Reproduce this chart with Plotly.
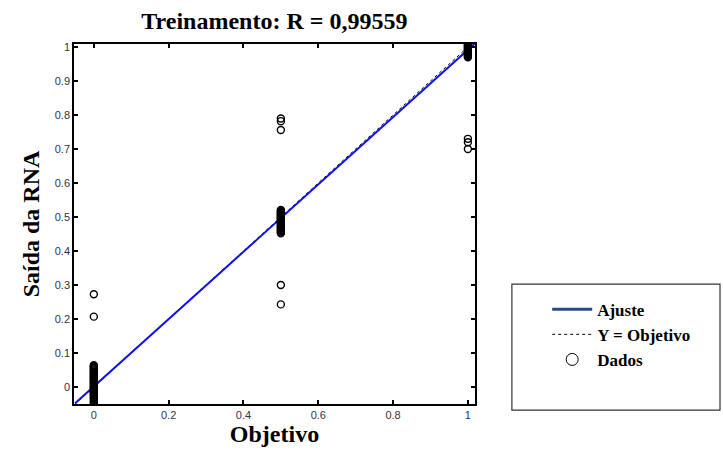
import plotly.graph_objects as go

# ---- data ----
title_text = "Treinamento: R = 0,99559"
x_ticks = [0, 0.2, 0.4, 0.6, 0.8, 1]
x_tick_labels = ["0", "0.2", "0.4", "0.6", "0.8", "1"]
y_ticks = [0, 0.1, 0.2, 0.3, 0.4, 0.5, 0.6, 0.7, 0.8, 0.9, 1]
y_tick_labels = ["0", "0.1", "0.2", "0.3", "0.4", "0.5", "0.6", "0.7", "0.8", "0.9", "1"]

# targets (Objetivo) and network outputs (Saída da RNA)
out_t0 = [0.273, 0.207,
          0.064, 0.061, 0.058, 0.055, 0.052, 0.049, 0.046, 0.043, 0.04, 0.037, 0.034,
          0.031, 0.028, 0.025, 0.022, 0.019, 0.016, 0.013, 0.01, 0.007, 0.004, 0.001,
          -0.002, -0.005, -0.008, -0.011, -0.014, -0.017, -0.02, -0.023, -0.026,
          -0.03, -0.034, -0.038, -0.043, -0.048, -0.053]
out_t05 = [0.79, 0.782, 0.756,
           0.521, 0.518, 0.515, 0.512, 0.509, 0.506, 0.503, 0.5, 0.497, 0.494, 0.491,
           0.488, 0.485, 0.482, 0.479, 0.476, 0.473, 0.47, 0.467, 0.464, 0.461, 0.458,
           0.455, 0.452,
           0.3, 0.243]
out_t1 = [1.012, 1.009, 1.006, 1.003, 1.0, 0.997, 0.994, 0.991, 0.988, 0.985, 0.982,
          0.979, 0.976, 0.973, 0.97, 0.73, 0.72, 0.7]

targets = [0] * len(out_t0) + [0.5] * len(out_t05) + [1] * len(out_t1)
outputs = out_t0 + out_t05 + out_t1

fit_x = [-0.05, 1.02]
fit_y = [-0.048, 1.012]
ident_x = [-0.05, 1.02]
ident_y = [-0.05, 1.02]

serif = "Liberation Serif, Times New Roman, serif"
sans = "Liberation Sans, Arial, sans-serif"

fig = go.Figure()
fig.add_trace(go.Scatter(x=ident_x, y=ident_y, mode="lines", name="<b>Y = Objetivo</b>",
                         legendrank=2,
                         line=dict(color="black", width=1, dash="dot")))
fig.add_trace(go.Scatter(x=fit_x, y=fit_y, mode="lines", name="<b>Ajuste</b>",
                         showlegend=False,
                         line=dict(color="#1010ee", width=2)))
fig.add_trace(go.Scatter(x=targets, y=outputs, mode="markers", name="<b>Dados</b>",
                         showlegend=False,
                         marker=dict(symbol="circle-open", size=7, color="black",
                                     line=dict(width=1.4, color="black"))))
# legend entries (styled like the reference key)
fig.add_trace(go.Scatter(x=[None], y=[None], mode="lines", name="<b>Ajuste</b>",
                         legendrank=1, line=dict(color="#2b4a8e", width=3)))
fig.add_trace(go.Scatter(x=[None], y=[None], mode="markers", name="<b>Dados</b>",
                         legendrank=3,
                         marker=dict(symbol="circle-open", size=12, color="black",
                                     line=dict(width=1, color="black"))))

axis_common = dict(showgrid=False, zeroline=False, showline=True, linecolor="black",
                   linewidth=1.5, mirror="ticks", ticks="inside", ticklen=4,
                   tickcolor="black", tickwidth=1.5, automargin=False,
                   tickfont=dict(family=sans, size=11, color="#333344"))

fig.update_xaxes(range=[-0.053, 1.019], tickvals=x_ticks, ticktext=x_tick_labels,
                 title=dict(text="<b>Objetivo</b>", font=dict(family=serif, size=24, color="black"),
                            standoff=0), **axis_common)
fig.update_yaxes(range=[-0.05, 1.009], tickvals=y_ticks, ticktext=y_tick_labels,
                 title=dict(text="<b>Saída da RNA</b>", font=dict(family=serif, size=24, color="black"),
                            standoff=8), **axis_common)

# legend frame
fig.add_shape(type="rect", xref="paper", yref="paper",
              x0=1.092, x1=1.611, y0=-0.017, y1=0.333,
              line=dict(color="#333333", width=1.2), fillcolor="white", layer="below")

fig.update_layout(
    width=723, height=452,
    margin=dict(l=74, r=248, t=44, b=48, autoexpand=False),
    paper_bgcolor="white", plot_bgcolor="white",
    title=dict(text="<b>" + title_text + "</b>", x=0.3795, xanchor="center",
               y=0.955, yanchor="middle",
               font=dict(family=serif, size=24, color="black")),
    showlegend=True,
    legend=dict(x=1.18, y=0.312, xanchor="left", yanchor="top",
                bgcolor="rgba(0,0,0,0)", borderwidth=0,
                font=dict(family=serif, size=17, color="black"),
                traceorder="normal", itemwidth=40),
)

fig.write_html("out.html", config={"displayModeBar": False},
               post_script="document.body.style.margin='0';document.body.style.overflow='hidden';")
